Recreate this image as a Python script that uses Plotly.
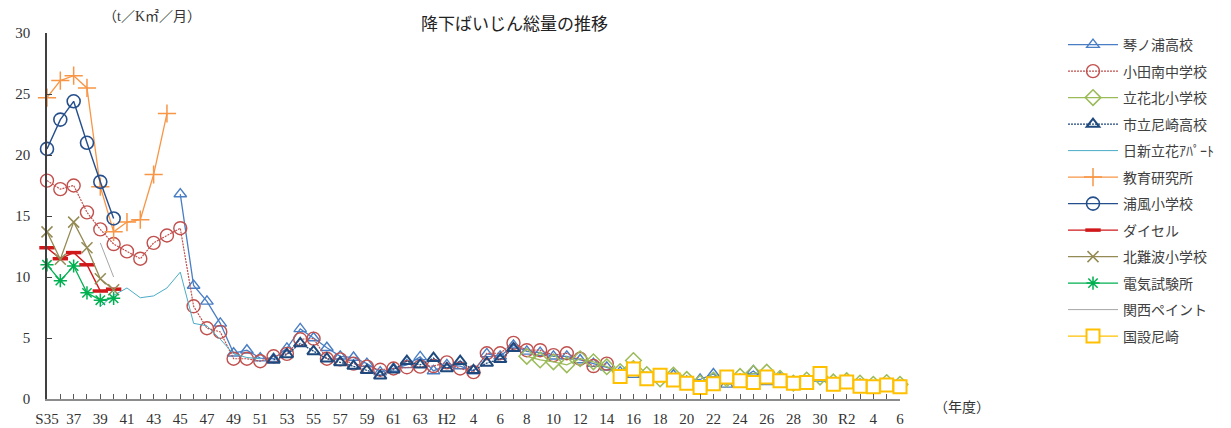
import plotly.graph_objects as go

# ---- categories (fiscal years S35 .. R6) ----
years = ([f"S{n}" for n in range(35, 64)] + [f"H{n}" for n in range(1, 31)]
         + [f"R{n}" for n in range(1, 7)])
tick_labels = (["S35"] + [str(n) for n in range(36, 64)] + ["H1", "H2"]
               + [str(n) for n in range(3, 31)] + ["R1", "R2"] + [str(n) for n in range(3, 7)])

# ---- series values (t/km2/month) ----
kotonoura_start = "S45"
kotonoura = [16.8, 9.3, 8.0, 6.2, 3.75, 4.0, 3.35, 3.3, 4.15, 5.75, 5.0, 4.2, 3.5, 3.4, 2.9,
             2.2, 2.5, 2.8, 3.45, 2.3, 2.8, 2.7, 2.3, 3.7, 3.5, 4.4, 3.9, 3.8, 3.5, 3.5,
             3.2, 2.9, 2.6, 2.2, 2.0, 1.75, 1.85, 1.95, 1.45, 1.6, 2.05, 1.2, 1.6, 2.3, 1.4,
             1.7, 1.1, 1.3, 1.7, 1.1, 1.3, 1.2, 1.0, 1.2, 1.1]
odaminami_start = "S35"
odaminami = [17.9, 17.2, 17.5, 15.3, 13.9, 12.7, 12.1, 11.5, 12.8, 13.4, 14.0, 7.6, 5.8, 5.5,
             3.3, 3.3, 3.1, 3.5, 3.7, 4.9, 4.95, 3.3, 3.25, 2.9, 2.65, 2.4, 2.5, 2.6, 2.65,
             2.7, 3.0, 2.5, 2.2, 3.75, 3.75, 4.6, 4.0, 4.0, 3.6, 3.75, 3.3, 2.7, 2.9]
tachibanakita_start = "H8"
tachibanakita = [3.5, 3.2, 3.05, 2.8, 3.3, 3.05, 2.65, 2.25, 3.15, 2.0, 1.65, 1.95, 1.6, 1.3,
                 1.55, 1.65, 1.85, 2.1, 2.2, 1.7, 1.3, 1.55, 1.8, 1.4, 1.5, 1.3, 1.2, 1.35, 1.2]
ichiritsu_start = "S52"
ichiritsu = [3.2, 3.65, 4.55, 3.9, 3.3, 3.0, 2.7, 2.35, 1.9, 2.4, 3.1, 2.8, 3.35, 2.5, 3.1,
             2.35, 2.95, 3.25, 4.15]
nisshin_start = "S39"
nisshin = [7.6, 8.5, 9.1, 8.3, 8.45, 9.1, 10.4, 6.2, 6.0, 4.9, 3.7, 3.4, 3.3]
kyoiku_start = "S35"
kyoiku = [24.7, 26.1, 26.5, 25.5, 17.4, 13.7, 14.5, 14.7, 18.4, 23.4]
urakaze_start = "S35"
urakaze = [20.5, 22.9, 24.4, 21.0, 17.8, 14.8]
daicel_start = "S35"
daicel = [12.4, 11.5, 12.0, 11.0, 8.85, 9.0]
kitanamba_start = "S35"
kitanamba = [13.7, 11.45, 14.5, 12.4, 9.85, 8.95]
denki_start = "S35"
denki = [11.0, 9.7, 10.9, 8.7, 8.1, 8.25]
kansai_start = "S39"
kansai = [12.8, 10.0]
kokusetsu_start = "H15"
kokusetsu = [1.85, 2.45, 1.65, 1.95, 1.55, 1.3, 0.95, 1.25, 1.8, 1.5, 1.35, 1.8, 1.5, 1.3,
             1.35, 2.1, 1.2, 1.4, 1.05, 1.0, 1.15, 1.0]


def xs(start, vals):
    i = years.index(start)
    return years[i:i + len(vals)]


series = [
    ("琴ノ浦高校", kotonoura_start, kotonoura, "#4A7EC4", None, "triangle-up-open", 11, 1.4, 1.3, None),
    ("小田南中学校", odaminami_start, odaminami, "#C0504D", "2px,1px", "circle-open", 13, 1.4, 1.2, None),
    ("立花北小学校", tachibanakita_start, tachibanakita, "#9BBB59", None, "diamond-open", 12, 1.5, 1.3, None),
    ("市立尼崎高校", ichiritsu_start, ichiritsu, "#1F497D", "2px,1px", "triangle-up-open", 11, 2.0, 1.3, None),
    ("日新立花ｱﾊﾟｰﾄ", nisshin_start, nisshin, "#4BACC6", None, None, 0, 0, 1.0, None),
    ("教育研究所", kyoiku_start, kyoiku, "#F79646", None, "cross-thin-open", 13, 1.5, 1.3, None),
    ("浦風小学校", urakaze_start, urakaze, "#254F8C", None, "circle-open", 13, 1.6, 1.4, None),
    ("ダイセル", daicel_start, daicel, "#D0181B", None, "line-ew-open", 11, 3.5, 1.4, None),
    ("北難波小学校", kitanamba_start, kitanamba, "#948A54", None, "x-thin-open", 11, 1.5, 1.3, None),
    ("電気試験所", denki_start, denki, "#00B050", None, "asterisk-open", 11, 1.5, 1.3, None),
    ("関西ペイント", kansai_start, kansai, "#A6A6A6", None, None, 0, 0, 1.0, None),
    ("国設尼崎", kokusetsu_start, kokusetsu, "#FFC000", None, "square", 13, 2.0, 1.3, "white"),
]

fig = go.Figure()
for name, start, vals, color, dash, sym, msize, mlw, lw, fill in series:
    line = dict(color=color, width=lw)
    if dash:
        line["dash"] = dash
    kw = dict(x=xs(start, vals), y=vals, name=name, line=line, cliponaxis=False,
              legendgroup=name)
    if sym:
        kw["mode"] = "lines+markers"
        kw["marker"] = dict(symbol=sym, size=msize, color=fill or color,
                            line=dict(color=color, width=mlw))
    else:
        kw["mode"] = "lines"
    fig.add_trace(go.Scatter(**kw))

serif = "Liberation Serif, Noto Sans CJK JP"
sans = "Noto Sans CJK JP"

# page has an 8px body margin: figure is 1223x420 placed at (8,8)
W, H = 1223, 420
L, T, B = 39, 25, 29
PW = 853
PH = H - T - B


def px_x(page_x):
    return (page_x - 8 - L) / PW


def px_y(page_y):
    return 1 - (page_y - 8 - T) / PH


fig.update_layout(
    width=W, height=H,
    margin=dict(l=L, r=W - L - PW, t=T, b=B, autoexpand=False),
    paper_bgcolor="white", plot_bgcolor="white",
    showlegend=True,
    legend=dict(x=px_x(1063), y=px_y(29), xanchor="left", yanchor="top",
                font=dict(family=sans, size=14, color="#404040"),
                itemwidth=50, tracegroupgap=5.3, bgcolor="rgba(0,0,0,0)",
                maxheight=400),
    xaxis=dict(type="category", categoryorder="array", categoryarray=years,
               range=[0, len(years) - 1], tickmode="array", tickvals=years,
               ticktext=[t if i % 2 == 0 else "" for i, t in enumerate(tick_labels)],
               ticks="inside", ticklen=5, tickcolor="#595959", tickwidth=1,
               showline=True, linecolor="#8C8C8C", linewidth=2, showgrid=False,
               zeroline=False, tickangle=0, ticklabelstandoff=5, automargin=False,
               tickfont=dict(family=serif, size=15, color="#333333")),
    yaxis=dict(range=[0, 30], dtick=5, ticks="inside", ticklen=5, tickcolor="#404040",
               showline=True, linecolor="#404040", linewidth=1.5, showgrid=False,
               zeroline=False, ticklabelstandoff=12, automargin=False,
               tickfont=dict(family=serif, size=15, color="#333333")),
    annotations=[
        dict(text="降下ばいじん総量の推移", xref="paper", yref="paper",
             x=px_x(515), y=px_y(8), xanchor="center", yanchor="top",
             showarrow=False, font=dict(family=sans, size=17, color="#222222")),
        dict(text="（t／K㎡／月）", xref="paper", yref="paper",
             x=px_x(152), y=px_y(16), xanchor="center", yanchor="middle",
             showarrow=False, font=dict(family=serif, size=14, color="#333333")),
        dict(text="（年度）", xref="paper", yref="paper",
             x=px_x(962), y=px_y(408), xanchor="center", yanchor="middle",
             showarrow=False, font=dict(family=serif, size=14, color="#333333")),
    ],
)

fig.write_html("out.html")
